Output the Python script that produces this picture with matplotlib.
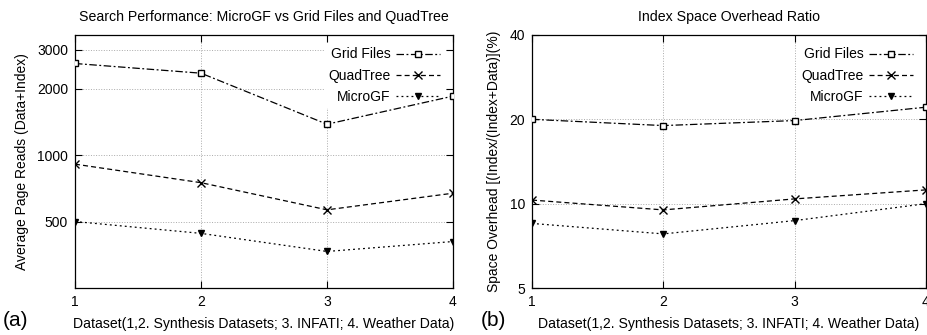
import matplotlib
matplotlib.use('Agg')
import matplotlib.pyplot as plt
from matplotlib.ticker import FixedLocator, FixedFormatter, NullLocator

plt.rcParams['font.family'] = ['Liberation Sans', 'DejaVu Sans']
plt.rcParams['font.size'] = 10

# data
datasets = [1, 2, 3, 4]
series_names = ['Grid Files', 'QuadTree', 'MicroGF']

reads_grid = [2600, 2350, 1380, 1850]
reads_quad = [910, 750, 565, 672]
reads_micro = [500, 442, 366, 406]

space_grid = [20.0, 19.0, 19.8, 22.1]
space_quad = [10.3, 9.5, 10.4, 11.2]
space_micro = [8.5, 7.8, 8.7, 10.0]

reads_ticks = [500, 1000, 2000, 3000]
space_ticks = [5, 10, 20, 40]

styles = [
    dict(marker='s', mfc='white', mec='black', ms=5, dashes=(6, 2, 1.5, 2)),
    dict(marker='x', mfc='black', mec='black', ms=6, mew=1.0, dashes=(4, 2.5)),
    dict(marker='v', mfc='black', mec='black', ms=5, dashes=(1.5, 2.5)),
]

fig = plt.figure(figsize=(9.28, 3.35), dpi=100)
ax1 = fig.add_axes([75 / 928, 47 / 335, 378 / 928, 253 / 335])
ax2 = fig.add_axes([532 / 928, 47 / 335, 394 / 928, 253 / 335])


def draw(ax, values, ylim, yticks, title, ylabel, tag, tag_x):
    for name, vals, st in zip(series_names, values, styles):
        ax.plot(datasets, vals, color='black', lw=0.9, label=name, zorder=3, **st)
    ax.set_yscale('log')
    ax.set_ylim(*ylim)
    ax.set_xlim(1, 4)
    ax.yaxis.set_major_locator(FixedLocator(yticks))
    ax.yaxis.set_major_formatter(FixedFormatter([str(t) for t in yticks]))
    ax.yaxis.set_minor_locator(NullLocator())
    ax.set_xticks(datasets)
    ax.tick_params(direction='in', length=5, width=0.8, top=True, right=True,
                   labelsize=10, pad=5)
    ax.set_axisbelow(True)
    ax.grid(True, color='#aaaaaa', ls=':', lw=0.7)
    for sp in ax.spines.values():
        sp.set_linewidth(0.9)
    ax.set_title(title, fontsize=10.2, pad=10)
    ax.set_xlabel('Dataset(1,2. Synthesis Datasets; 3. INFATI; 4. Weather Data)',
                  fontsize=10.1, labelpad=6)
    ax.set_ylabel(ylabel, fontsize=10, labelpad=6)
    leg = ax.legend(loc='upper right', markerfirst=False, frameon=True,
                    fontsize=10, handlelength=3.2, handletextpad=0.4,
                    labelspacing=0.52, borderpad=0.3, borderaxespad=0.6)
    leg.get_frame().set_facecolor('white')
    leg.get_frame().set_edgecolor('none')
    leg.get_frame().set_alpha(1)
    leg.set_zorder(1)
    for t in leg.get_texts():
        t.set_ha('right')
    fig.text(tag_x, 14 / 335, tag, fontsize=15, va='center')


draw(ax1, [reads_grid, reads_quad, reads_micro], (250, 3500), reads_ticks,
     'Search Performance: MicroGF vs Grid Files and QuadTree',
     'Average Page Reads (Data+Index)', '(a)', 3 / 928)
draw(ax2, [space_grid, space_quad, space_micro], (5, 40), space_ticks,
     'Index Space Overhead Ratio',
     'Space Overhead [(Index/(Index+Data)](%)', '(b)', 481 / 928)

fig.savefig('out.png', dpi=100)
